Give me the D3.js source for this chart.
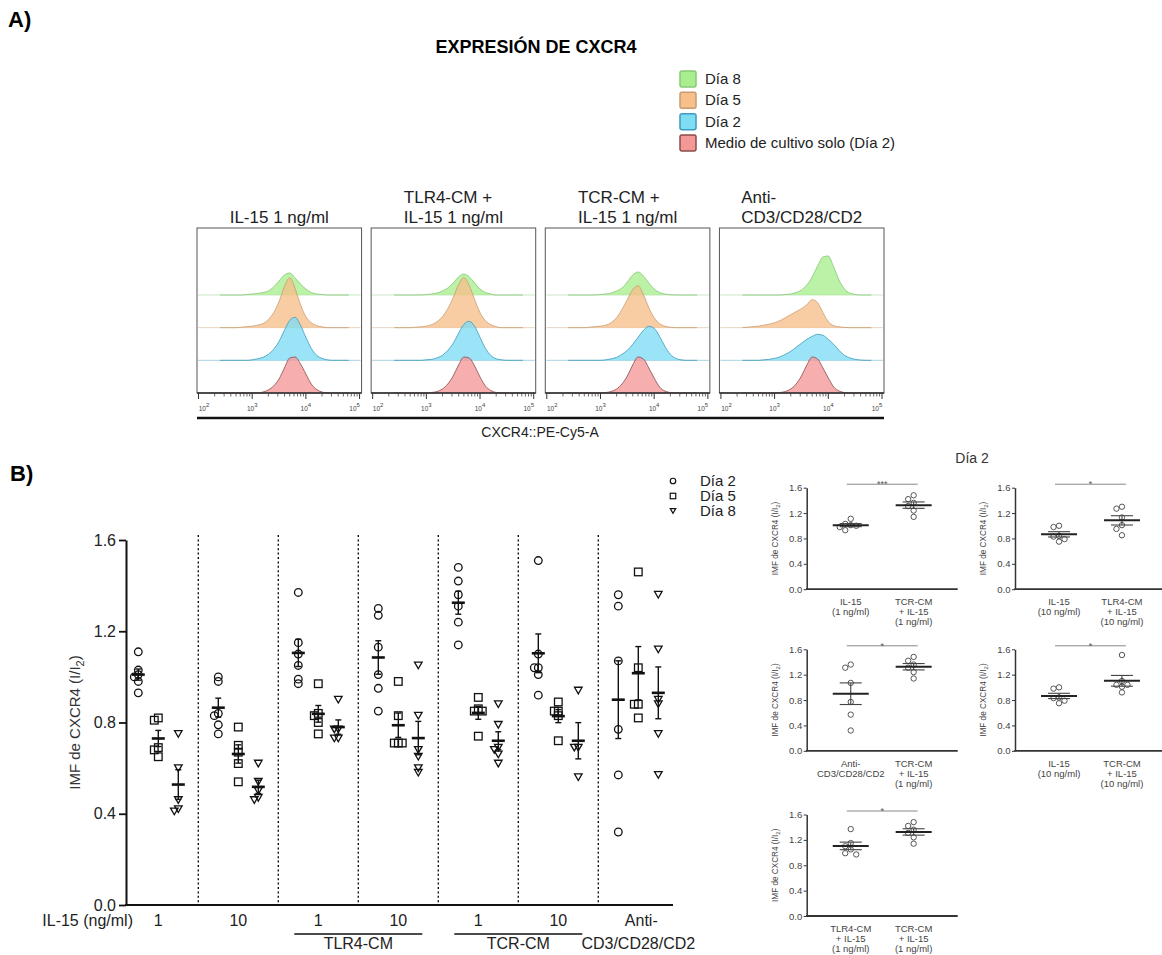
<!DOCTYPE html>
<html>
<head>
<meta charset="utf-8">
<script src="https://cdn.jsdelivr.net/npm/d3@7"></script>
<style>
  body { margin: 0; background: #fff; }
  svg { display: block; font-family: "Liberation Sans", Arial, sans-serif; }
</style>
</head>
<body>
<svg id="fig" width="1162" height="955"></svg>
<script>
// ---------------- Panel A: CXCR4 histograms ----------------
const histPanels = ["IL-15 1 ng/ml", "TLR4-CM + IL-15 1 ng/ml", "TCR-CM + IL-15 1 ng/ml", "Anti-CD3/CD28/CD2"];
const histTitleLines = [["IL-15 1 ng/ml"], ["TLR4-CM +", "IL-15 1 ng/ml"], ["TCR-CM +", "IL-15 1 ng/ml"], ["Anti-", "CD3/CD28/CD2"]];
const histSeries = ["Día 8", "Día 5", "Día 2", "Medio de cultivo solo (Día 2)"];
// log10 of fluorescence at each bin centre
const logBins = [2.4, 2.5, 2.6, 2.7, 2.8, 2.9, 3.0, 3.1, 3.2, 3.3, 3.4, 3.5, 3.6, 3.7, 3.8, 3.9, 4.0, 4.1, 4.2, 4.3, 4.4, 4.5, 4.6, 4.7, 4.8];
const decadeTicks = [2, 3, 4, 5];
// event counts per bin, one row per series (Día 8, Día 5, Día 2, medio)
const histIL15 = [
  [0,0,0,0,0,0.5,1,1.5,2.5,4,8,14,20,22,17,11,6,2.5,1,0.5,0,0,0,0,0],
  [0,0,0,0,0.5,1,1.5,2.5,4,8,15,26,41,50,39,23,11,5,2,0.8,0,0,0,0,0],
  [0,0,0,0,0,0,0.5,1.5,3,6,11,19,30,40,43,35,23,12,5,2,0.5,0,0,0,0],
  [0,0,0,0,0,0,0,0,1,3,7,14,25,35,36,29,19,9,3.5,1,0,0,0,0,0]
];
const histTLR4 = [
  [0,0,0,0,0,0,0.5,1,2,4,7,12,18,21,18,12,6,2.5,1,0,0,0,0,0,0],
  [0,0,0,0,0.5,0.8,1.5,3,6,11,19,30,43,50,42,28,15,7,3,1,0,0,0,0,0],
  [0,0,0,0,0,0,0.5,1,2.5,5,10,17,27,36,39,34,23,12,5,1.5,0.5,0,0,0,0],
  [0,0,0,0,0,0,0,0.5,1.5,4,9,17,28,36,35,27,16,7,2.5,0.5,0,0,0,0,0]
];
const histTCR = [
  [0,0,0,0,0,0,0.5,1,2,4,7,13,20,23,19,12,6,2.5,1,0.3,0,0,0,0,0],
  [0,0,0,0,0.5,1,1.5,2.5,5,10,18,28,38,42,33,20,10,4,1.5,0.5,0,0,0,0,0],
  [0,0,0,0,0,0,0,0.5,1.5,3,6,10,16,23,30,34,32,24,14,6,2,0.5,0,0,0],
  [0,0,0,0,0,0,0,0.5,1.5,4,9,17,28,36,34,25,15,6,2,0.5,0,0,0,0,0]
];
const histAnti = [
  [0,0,0,0,0,0,0,0,0.5,1,2.5,5,10,18,29,38,39,28,15,6,2,0.5,0,0,0],
  [0,0.5,1,1.5,2.5,3.5,5,7,10,13,16,19,23,28,25,15,6,2,0.8,0.3,0,0,0,0,0],
  [0,0,0,0,0.5,1,2,3.5,6,9,13,17,21,24,26,25,21,16,10,5,2.5,1,0.3,0,0],
  [0,0,0,0,0,0,0,0.5,1.5,4,9,17,28,36,34,25,15,6,2,0.5,0,0,0,0,0]
];
const histData = [histIL15, histTLR4, histTCR, histAnti];

// ---------------- Panel B: CXCR4 MFI relative to day 2 ----------------
const groups = ["IL-15 1", "IL-15 10", "TLR4-CM 1", "TLR4-CM 10", "TCR-CM 1", "TCR-CM 10", "Anti-CD3/CD28/CD2"];
const days = ["Día 2", "Día 5", "Día 8"];
const day2Vals = [
  [1.11, 1.03, 1.01, 1.00, 0.98, 0.93],
  [1.00, 0.98, 0.84, 0.83, 0.79, 0.75],
  [1.37, 1.15, 1.10, 1.05, 0.99, 0.97],
  [1.30, 1.27, 1.13, 1.01, 0.95, 0.85],
  [1.48, 1.42, 1.36, 1.31, 1.24, 1.14],
  [1.51, 1.10, 1.04, 1.04, 1.01, 0.92],
  [1.36, 1.31, 1.07, 0.77, 0.57, 0.32]
];
const day5Vals = [
  [0.82, 0.81, 0.69, 0.68, 0.65],
  [0.78, 0.70, 0.67, 0.62, 0.54],
  [0.97, 0.84, 0.83, 0.80, 0.75],
  [0.98, 0.83, 0.71, 0.71, 0.71],
  [0.91, 0.86, 0.85, 0.85, 0.74],
  [0.89, 0.85, 0.85, 0.83, 0.72],
  [1.46, 1.04, 0.88, 0.88, 0.82]
];
const day8Vals = [
  [0.75, 0.60, 0.46, 0.42, 0.41],
  [0.62, 0.54, 0.50, 0.47, 0.46],
  [0.90, 0.77, 0.77, 0.73, 0.73],
  [1.05, 0.83, 0.68, 0.65, 0.60, 0.58],
  [0.88, 0.79, 0.69, 0.68, 0.66, 0.62],
  [0.94, 0.69, 0.69, 0.56],
  [1.36, 1.12, 0.90, 0.88, 0.75, 0.57]
];
const yTicks = [0.0, 0.4, 0.8, 1.2, 1.6];
const doseLabels = ["1", "10", "1", "10", "1", "10", "Anti-"];
const bracketLabels = ["TLR4-CM", "TCR-CM"];
const bracketGroups = [[2, 3], [4, 5]];

// day-2 pairwise comparisons: group indices, x labels, significance
const cmpGroups = [[0, 4], [1, 3], [6, 4], [1, 5], [2, 4]];
const cmpLabels = [
  [["IL-15", "(1 ng/ml)"], ["TCR-CM", "+ IL-15", "(1 ng/ml)"]],
  [["IL-15", "(10 ng/ml)"], ["TLR4-CM", "+ IL-15", "(10 ng/ml)"]],
  [["Anti-", "CD3/CD28/CD2"], ["TCR-CM", "+ IL-15", "(1 ng/ml)"]],
  [["IL-15", "(10 ng/ml)"], ["TCR-CM", "+ IL-15", "(10 ng/ml)"]],
  [["TLR4-CM", "+ IL-15", "(1 ng/ml)"], ["TCR-CM", "+ IL-15", "(1 ng/ml)"]]
];
const cmpSig = ["***", "*", "*", "*", "*"];

// ---------------- drawing ----------------
const svg = d3.select("#fig");
const FONT = '"Liberation Sans", Arial, sans-serif';

const seriesFill = ["#a8ee8e", "#f6bf8b", "#7fdcf5", "#f39797"];
const seriesStroke = ["#86c777", "#c79c70", "#3f9bbb", "#8c4b4b"];

svg.append("text").attr("x", 8).attr("y", 27).attr("font-size", 22).attr("font-weight", "bold").text("A)");
svg.append("text").attr("x", 536).attr("y", 53).attr("text-anchor", "middle")
  .attr("font-size", 18).attr("font-weight", "bold").text("EXPRESIÓN DE CXCR4");

// legend for the histograms
const legY = d3.scalePoint().domain(histSeries).range([79, 143]);
const legA = svg.append("g");
histSeries.forEach((s, i) => {
  legA.append("rect").attr("x", 680).attr("y", legY(s) - 8).attr("width", 16).attr("height", 16).attr("rx", 2)
    .attr("fill", seriesFill[i]).attr("stroke", seriesStroke[i]).attr("stroke-width", 1.5);
  legA.append("text").attr("x", 705).attr("y", legY(s) + 5).attr("font-size", 15).attr("fill", "#222").text(s);
});

const panelBand = d3.scaleBand().domain(histPanels).range([197, 884]).paddingInner(0.055);
const boxTop = 228, boxBottom = 393;
const rowBase = d3.scalePoint().domain(histSeries).range([295, 393]);
const hScale = d3.scaleLinear().domain([0, 50]).range([0, 50]);

histPanels.forEach((p, pi) => {
  const x0 = panelBand(p), w = panelBand.bandwidth();
  const g = svg.append("g");
  const xLog = d3.scaleLog().domain([1e2, 1e5]).range([x0 + 1.5, x0 + w - 2]);

  // title block: lines left-aligned, block centred over the panel
  const tg = g.append("g");
  const lines = histTitleLines[pi];
  const tNodes = lines.map((t, li) => tg.append("text").attr("font-size", 17).attr("fill", "#222")
    .attr("y", 223 - (lines.length - 1 - li) * 20).text(t));
  const maxW = d3.max(tNodes, n => n.node().getComputedTextLength());
  tNodes.forEach(n => n.attr("x", x0 + w / 2 - maxW / 2));

  // stacked histograms, top row first
  histSeries.forEach((s, si) => {
    const base = rowBase(s);
    const pts = logBins.map((L, i) => [L, histData[pi][si][i]]);
    g.append("line").attr("x1", x0 + 1).attr("x2", x0 + w - 1).attr("y1", base).attr("y2", base)
      .attr("stroke", seriesStroke[si]).attr("stroke-opacity", 0.55).attr("stroke-width", 0.8);
    const area = d3.area().curve(d3.curveMonotoneX)
      .x(d => xLog(Math.pow(10, d[0]))).y0(base).y1(d => base - hScale(d[1]));
    const line = d3.line().curve(d3.curveMonotoneX)
      .x(d => xLog(Math.pow(10, d[0]))).y(d => base - hScale(d[1]));
    g.append("path").attr("d", area(pts)).attr("fill", seriesFill[si]).attr("fill-opacity", 0.78);
    g.append("path").attr("d", line(pts)).attr("fill", "none").attr("stroke", seriesStroke[si])
      .attr("stroke-width", 0.9).attr("stroke-opacity", 0.9);
  });

  // frame
  g.append("rect").attr("x", x0).attr("y", boxTop).attr("width", w).attr("height", boxBottom - boxTop)
    .attr("fill", "none").attr("stroke", "#555").attr("stroke-width", 1);
  g.append("line").attr("x1", x0).attr("x2", x0 + w).attr("y1", boxBottom).attr("y2", boxBottom)
    .attr("stroke", "#333").attr("stroke-width", 1.4);

  // log axis ticks
  const minor = [];
  [2, 3, 4].forEach(k => d3.range(2, 10).forEach(m => minor.push(m * Math.pow(10, k))));
  g.selectAll(null).data(minor).join("line")
    .attr("x1", d => xLog(d)).attr("x2", d => xLog(d)).attr("y1", boxBottom).attr("y2", boxBottom + 3.5)
    .attr("stroke", "#444").attr("stroke-width", 0.8);
  decadeTicks.forEach(k => {
    const xt = xLog(Math.pow(10, k));
    g.append("line").attr("x1", xt).attr("x2", xt).attr("y1", boxBottom).attr("y2", boxBottom + 6)
      .attr("stroke", "#333").attr("stroke-width", 1);
    const lx = Math.max(x0 + 7, Math.min(x0 + w - 7, xt));
    const t = g.append("text").attr("x", lx).attr("y", 411).attr("text-anchor", "middle")
      .attr("font-size", 6.5).attr("fill", "#444");
    t.append("tspan").text("10");
    t.append("tspan").attr("dy", -4).attr("font-size", 6).text(k);
  });
});

svg.append("line").attr("x1", 197).attr("x2", 884).attr("y1", 418).attr("y2", 418)
  .attr("stroke", "#111").attr("stroke-width", 2.5);
svg.append("text").attr("x", 540).attr("y", 437).attr("text-anchor", "middle").attr("font-size", 14)
  .attr("fill", "#222").text("CXCR4::PE-Cy5-A");

// ---------------- Panel B ----------------
svg.append("text").attr("x", 10).attr("y", 481).attr("font-size", 22).attr("font-weight", "bold").text("B)");

// helper: horizontal offsets so that overlapping points sit side by side
function swarm(vals, yScale, step, tol) {
  const order = vals.map((v, i) => ({ v, i })).sort((a, b) => b.v - a.v);
  const placed = [], off = new Array(vals.length).fill(0);
  order.forEach(o => {
    const y = yScale(o.v);
    const cands = [0, -step, step, -2 * step, 2 * step, -3 * step, 3 * step];
    for (const c of cands) {
      if (!placed.some(p => Math.abs(p.y - y) < tol && Math.abs(p.x - c) < step * 0.9)) {
        off[o.i] = c; placed.push({ x: c, y }); break;
      }
    }
  });
  return off;
}
function sem(a) { return d3.deviation(a) / Math.sqrt(a.length); }

function drawMarker(g, shape, x, y, s, color, sw) {
  if (shape === 0) {
    g.append("circle").attr("cx", x).attr("cy", y).attr("r", s / 2).attr("fill", "none")
      .attr("stroke", color).attr("stroke-width", sw);
  } else if (shape === 1) {
    g.append("rect").attr("x", x - s / 2).attr("y", y - s / 2).attr("width", s).attr("height", s)
      .attr("fill", "none").attr("stroke", color).attr("stroke-width", sw);
  } else {
    const h = s * 0.87;
    g.append("path").attr("d", `M${x - s / 2},${y - h / 2}L${x + s / 2},${y - h / 2}L${x},${y + h / 2}Z`)
      .attr("fill", "none").attr("stroke", color).attr("stroke-width", sw).attr("stroke-linejoin", "miter");
  }
}

const mainX = d3.scaleBand().domain(d3.range(groups.length)).range([118.3, 678.3]);
const dayX = d3.scalePoint().domain(days).range([-20, 20]);
const mainY = d3.scaleLinear().domain([0, 1.6]).range([905, 540]);
const gc = i => mainX(i) + mainX.bandwidth() / 2;
const mainG = svg.append("g");

// dotted separators
d3.range(1, groups.length).forEach(i => {
  mainG.append("line").attr("x1", mainX(i)).attr("x2", mainX(i)).attr("y1", 535).attr("y2", 905)
    .attr("stroke", "#111").attr("stroke-width", 1.4).attr("stroke-dasharray", "2,2.4");
});

// y axis
const yAx = mainG.append("g").attr("transform", "translate(126,0)")
  .call(d3.axisLeft(mainY).tickValues(yTicks).tickFormat(d3.format(".1f")).tickSize(7).tickSizeOuter(0).tickPadding(3));
yAx.select(".domain").attr("stroke", "#111").attr("stroke-width", 2);
yAx.selectAll(".tick line").attr("stroke", "#111").attr("stroke-width", 1.8);
yAx.selectAll(".tick text").attr("font-size", 16).attr("font-family", FONT).attr("fill", "#222");
mainG.append("line").attr("x1", 125).attr("x2", 673).attr("y1", 905).attr("y2", 905)
  .attr("stroke", "#111").attr("stroke-width", 2.2);

const yt = mainG.append("text").attr("transform", "translate(80,722.5) rotate(-90)")
  .attr("text-anchor", "middle").attr("font-size", 15).attr("fill", "#333");
yt.append("tspan").text("IMF de CXCR4 (I/I");
yt.append("tspan").attr("font-size", 11).attr("dy", 4).text("2");
yt.append("tspan").attr("dy", -4).text(")");

// points, mean and SEM
const dayVals = [day2Vals, day5Vals, day8Vals];
groups.forEach((grp, gi) => {
  days.forEach((d, di) => {
    const vals = dayVals[di][gi];
    const cx = gc(gi) + dayX(d);
    const off = swarm(vals, mainY, 4, 4);
    vals.forEach((v, k) => drawMarker(mainG, di, cx + off[k], mainY(v), 7.6, "#111", 1.3));
    const m = d3.mean(vals), e = sem(vals);
    mainG.append("line").attr("x1", cx).attr("x2", cx).attr("y1", mainY(m - e)).attr("y2", mainY(m + e))
      .attr("stroke", "#111").attr("stroke-width", 1.4);
    [m - e, m + e].forEach(b => mainG.append("line").attr("x1", cx - 3).attr("x2", cx + 3)
      .attr("y1", mainY(b)).attr("y2", mainY(b)).attr("stroke", "#111").attr("stroke-width", 1.4));
    mainG.append("line").attr("x1", cx - 6.5).attr("x2", cx + 6.5).attr("y1", mainY(m)).attr("y2", mainY(m))
      .attr("stroke", "#111").attr("stroke-width", 2.6);
  });
});

// x labels
mainG.append("text").attr("x", 133).attr("y", 926).attr("text-anchor", "end").attr("font-size", 16)
  .attr("fill", "#222").text("IL-15 (ng/ml)");
doseLabels.forEach((t, i) => mainG.append("text").attr("x", gc(i) + (i === 6 ? 3 : 0)).attr("y", 926)
  .attr("text-anchor", "middle").attr("font-size", 16).attr("fill", "#222").text(t));
bracketLabels.forEach((t, i) => {
  const [a, b] = bracketGroups[i];
  mainG.append("line").attr("x1", gc(a) - 24).attr("x2", gc(b) + 24).attr("y1", 934).attr("y2", 934)
    .attr("stroke", "#111").attr("stroke-width", 1.3);
  mainG.append("text").attr("x", (gc(a) + gc(b)) / 2).attr("y", 948.5).attr("text-anchor", "middle")
    .attr("font-size", 16).attr("fill", "#222").text(t);
});
mainG.append("text").attr("x", gc(6)).attr("y", 948.5).attr("text-anchor", "middle").attr("font-size", 16)
  .attr("fill", "#222").text("CD3/CD28/CD2");

// legend
const legB = d3.scalePoint().domain(days).range([481, 511]);
days.forEach((d, di) => {
  drawMarker(svg, di, 673, legB(d), 5.5, "#111", 1.2);
  svg.append("text").attr("x", 700).attr("y", legB(d) + 5).attr("font-size", 15).attr("fill", "#222").text(d);
});

// ---------------- Day-2 comparisons ----------------
svg.append("text").attr("x", 972).attr("y", 463).attr("text-anchor", "middle").attr("font-size", 14)
  .attr("fill", "#333").text("Día 2");

const smallCols = [806.7, 1015];
const smallTops = [487.7, 649.3, 814.5];
const smallH = 101.5, smallW = 151;
const GREY = "#444";

cmpGroups.forEach((pair, ci) => {
  const ox = smallCols[ci % 2], top = smallTops[Math.floor(ci / 2)];
  const g = svg.append("g").attr("transform", `translate(${ox},${top})`);
  const y = d3.scaleLinear().domain([0, 1.6]).range([smallH, 0]);
  const x = d3.scalePoint().domain([0, 1]).range([0, smallW]).padding(0.7);

  const ax = g.append("g").call(d3.axisLeft(y).tickValues(yTicks).tickFormat(d3.format(".1f"))
    .tickSize(3).tickSizeOuter(0).tickPadding(1.5));
  ax.select(".domain").attr("stroke", "#333").attr("stroke-width", 1.5);
  ax.selectAll(".tick line").attr("stroke", "#333");
  ax.selectAll(".tick text").attr("font-size", 9.5).attr("font-family", FONT).attr("fill", GREY);
  g.append("line").attr("x1", -0.7).attr("x2", smallW).attr("y1", smallH).attr("y2", smallH)
    .attr("stroke", "#333").attr("stroke-width", 1.8);

  const t = g.append("text").attr("transform", `translate(-29,${smallH / 2}) rotate(-90)`)
    .attr("text-anchor", "middle").attr("font-size", 8.2).attr("fill", GREY);
  t.append("tspan").text("IMF de CXCR4 (I/I");
  t.append("tspan").attr("font-size", 6).attr("dy", 2).text("2");
  t.append("tspan").attr("dy", -2).text(")");

  pair.forEach((gi, k) => {
    const vals = day2Vals[gi];
    const cx = x(k);
    const off = swarm(vals, y, 5.5, 5.5);
    vals.forEach((v, j) => g.append("circle").attr("cx", cx + off[j]).attr("cy", y(v)).attr("r", 2.7)
      .attr("fill", "none").attr("stroke", "#555").attr("stroke-width", 1));
    const m = d3.mean(vals), e = sem(vals);
    g.append("line").attr("x1", cx).attr("x2", cx).attr("y1", y(m - e)).attr("y2", y(m + e))
      .attr("stroke", "#444").attr("stroke-width", 1.1);
    [m - e, m + e].forEach(b => g.append("line").attr("x1", cx - 11).attr("x2", cx + 11)
      .attr("y1", y(b)).attr("y2", y(b)).attr("stroke", "#444").attr("stroke-width", 1.1));
    g.append("line").attr("x1", cx - 18).attr("x2", cx + 18).attr("y1", y(m)).attr("y2", y(m))
      .attr("stroke", "#222").attr("stroke-width", 2);
    cmpLabels[ci][k].forEach((ln, li) => g.append("text").attr("x", cx).attr("y", smallH + 16 + li * 10)
      .attr("text-anchor", "middle").attr("font-size", 9.5).attr("fill", GREY).text(ln));
  });

  const sy = y(1.655);
  g.append("line").attr("x1", x(0) - 4).attr("x2", x(1) + 4).attr("y1", sy).attr("y2", sy)
    .attr("stroke", "#888").attr("stroke-width", 1);
  g.append("text").attr("x", (x(0) + x(1)) / 2).attr("y", sy + 3).attr("text-anchor", "middle")
    .attr("font-size", 9).attr("fill", "#555").text(cmpSig[ci]);
});
</script>
</body>
</html>
